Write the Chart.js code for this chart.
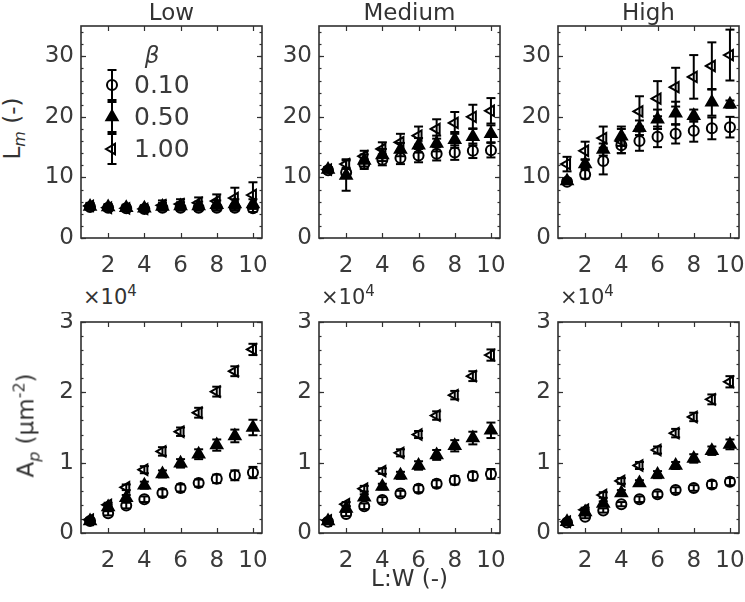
<!DOCTYPE html>
<html>
<head>
<meta charset="utf-8">
<script src="https://cdn.jsdelivr.net/npm/chart.js@4.4.1/dist/chart.umd.min.js"></script>
<style>
  body { margin: 0; background: #fff; }
  #fig { position: relative; width: 745px; height: 602px; font-family: "DejaVu Sans", sans-serif; color: #333; overflow: hidden; }
  canvas { position: absolute; }
  .lbl { position: absolute; font-size: 23px; line-height: 1; white-space: nowrap; }
  .title { width: 200px; text-align: center; }
  .ylab { width: 240px; text-align: center; transform: rotate(-90deg); transform-origin: center; }
  .exp { font-size: 21px; }
  .exp span { position: relative; top: -0.55em; font-size: 15px; }
  .ylab sub, .ylab sup { font-size: 16px; line-height: 0; }
</style>
</head>
<body>
<div id="fig"></div>
<script>
// L:W ratio on the x axis
const LW = [1, 2, 3, 4, 5, 6, 7, 8, 9, 10];
const X_TICKS = [2, 4, 6, 8, 10];
const LM_TICKS = [0, 10, 20, 30];
const AP_TICKS = [0, 1, 2, 3];
const COLUMNS = ["Low", "Medium", "High"];
const BETAS = ["0.10", "0.50", "1.00"];

// L_m (-) : mean and error half-length, one array per beta
const lowLm010 = [5.1, 5.0, 4.9, 4.8, 5.0, 5.0, 5.0, 5.0, 5.0, 4.9];
const lowLm010Err = [0.4, 0.4, 0.4, 0.4, 0.5, 0.5, 0.5, 0.5, 0.5, 0.6];
const lowLm050 = [5.2, 5.1, 5.0, 4.9, 5.2, 5.3, 5.3, 5.5, 5.6, 5.6];
const lowLm050Err = [0.5, 0.5, 0.5, 0.5, 0.6, 0.6, 0.7, 0.7, 0.8, 0.8];
const lowLm100 = [5.3, 5.0, 4.9, 4.8, 5.4, 5.6, 5.8, 6.1, 6.6, 7.1];
const lowLm100Err = [0.5, 0.5, 0.5, 0.5, 0.8, 0.8, 0.9, 1.1, 1.7, 2.1];

const medLm010 = [11.2, 10.8, 12.2, 12.9, 13.2, 13.6, 13.9, 14.1, 14.4, 14.5];
const medLm010Err = [0.4, 0.8, 0.8, 0.9, 1.0, 1.1, 1.1, 1.2, 1.2, 1.2];
const medLm050 = [11.3, 10.3, 12.8, 13.7, 14.6, 15.3, 15.6, 16.2, 16.7, 17.2];
const medLm050Err = [0.4, 2.5, 1.0, 1.0, 1.1, 1.2, 1.3, 1.3, 1.4, 1.4];
const medLm100 = [11.3, 12.2, 13.5, 14.7, 15.8, 16.9, 18.0, 19.0, 20.0, 21.0];
const medLm100Err = [0.4, 0.8, 0.9, 1.1, 1.4, 1.5, 1.6, 1.8, 2.0, 2.1];

const highLm010 = [9.3, 10.5, 12.7, 15.3, 16.0, 16.7, 17.2, 17.7, 18.1, 18.3];
const highLm010Err = [0.4, 0.7, 2.2, 1.3, 1.6, 1.7, 1.6, 1.8, 1.8, 1.7];
const highLm050 = [9.4, 12.2, 14.6, 16.8, 18.2, 19.6, 20.6, 20.2, 22.4, 22.1];
const highLm050Err = [0.4, 0.8, 1.0, 1.6, 1.2, 1.6, 1.9, 1.0, 2.2, 0.6];
const highLm100 = [12.2, 14.4, 16.5, 16.0, 20.9, 23.0, 24.9, 26.6, 28.4, 30.2];
const highLm100Err = [1.2, 1.5, 1.9, 2.0, 2.5, 2.9, 3.2, 3.6, 3.9, 4.2];

// A_p in units of 1e4 um^-2
const lowAp010 = [0.17, 0.28, 0.39, 0.48, 0.57, 0.64, 0.71, 0.77, 0.82, 0.86];
const lowAp010Err = [0.02, 0.03, 0.04, 0.04, 0.05, 0.05, 0.05, 0.06, 0.07, 0.08];
const lowAp050 = [0.17, 0.37, 0.50, 0.68, 0.84, 0.99, 1.12, 1.25, 1.38, 1.50];
const lowAp050Err = [0.02, 0.03, 0.04, 0.05, 0.05, 0.06, 0.07, 0.08, 0.09, 0.11];
const lowAp100 = [0.19, 0.40, 0.65, 0.90, 1.16, 1.44, 1.71, 2.01, 2.30, 2.61];
const lowAp100Err = [0.02, 0.03, 0.04, 0.05, 0.06, 0.06, 0.07, 0.07, 0.07, 0.08];

const medAp010 = [0.16, 0.27, 0.38, 0.47, 0.56, 0.63, 0.70, 0.75, 0.81, 0.84];
const medAp010Err = [0.02, 0.03, 0.04, 0.04, 0.04, 0.05, 0.05, 0.06, 0.06, 0.07];
const medAp050 = [0.17, 0.35, 0.51, 0.66, 0.82, 0.96, 1.11, 1.24, 1.35, 1.46];
const medAp050Err = [0.02, 0.03, 0.04, 0.04, 0.05, 0.06, 0.07, 0.08, 0.09, 0.11];
const medAp100 = [0.18, 0.41, 0.63, 0.88, 1.14, 1.40, 1.67, 1.96, 2.23, 2.53];
const medAp100Err = [0.02, 0.03, 0.04, 0.04, 0.05, 0.05, 0.06, 0.06, 0.07, 0.08];

const highAp010 = [0.15, 0.23, 0.32, 0.41, 0.48, 0.55, 0.61, 0.64, 0.69, 0.73];
const highAp010Err = [0.02, 0.02, 0.03, 0.03, 0.04, 0.04, 0.04, 0.04, 0.05, 0.05];
const highAp050 = [0.16, 0.30, 0.42, 0.57, 0.71, 0.83, 0.96, 1.06, 1.17, 1.26];
const highAp050Err = [0.02, 0.03, 0.03, 0.04, 0.04, 0.05, 0.05, 0.06, 0.06, 0.07];
const highAp100 = [0.16, 0.33, 0.54, 0.74, 0.96, 1.18, 1.42, 1.65, 1.90, 2.15];
const highAp100Err = [0.02, 0.03, 0.04, 0.04, 0.05, 0.05, 0.06, 0.06, 0.07, 0.08];

const AXIS_COLOR = "#303030";
const TEXT_COLOR = "#3a3a3a";
const FONT = "DejaVu Sans";

const COL_LEFT = [81, 319, 558];
const ROW_TOP = [26, 322];
const PLOT_W = 181;
const PLOT_H = [212, 211];
const PAD_L = 50, PAD_T = 10, PAD_R = 12, PAD_B = 44;

const MARKERS = [
  { pointStyle: "circle", radius: 5, rotation: 0, filled: false, order: 3 },
  { pointStyle: "triangle", radius: 6.5, rotation: 0, filled: true, order: 2 },
  { pointStyle: "triangle", radius: 6, rotation: -90, filled: false, order: 1 },
];

const panels = [
  { row: 0, col: 0, series: [[lowLm010, lowLm010Err], [lowLm050, lowLm050Err], [lowLm100, lowLm100Err]] },
  { row: 0, col: 1, series: [[medLm010, medLm010Err], [medLm050, medLm050Err], [medLm100, medLm100Err]] },
  { row: 0, col: 2, series: [[highLm010, highLm010Err], [highLm050, highLm050Err], [highLm100, highLm100Err]] },
  { row: 1, col: 0, series: [[lowAp010, lowAp010Err], [lowAp050, lowAp050Err], [lowAp100, lowAp100Err]] },
  { row: 1, col: 1, series: [[medAp010, medAp010Err], [medAp050, medAp050Err], [medAp100, medAp100Err]] },
  { row: 1, col: 2, series: [[highAp010, highAp010Err], [highAp050, highAp050Err], [highAp100, highAp100Err]] },
];

function line(ctx, x1, y1, x2, y2) {
  ctx.beginPath();
  ctx.moveTo(x1, y1);
  ctx.lineTo(x2, y2);
  ctx.stroke();
}

function errorBar(ctx, x, top, bot) {
  line(ctx, x, top, x, bot);
  line(ctx, x - 4.5, top, x + 4.5, top);
  line(ctx, x - 4.5, bot, x + 4.5, bot);
}

// box, inward ticks and error bars, like a matlab axes
const matlabAxes = {
  id: "matlabAxes",
  beforeDatasetsDraw(chart, args, opts) {
    const { ctx, chartArea: a, scales: { x, y } } = chart;
    ctx.save();
    ctx.strokeStyle = AXIS_COLOR;
    ctx.lineWidth = 1.6;
    ctx.strokeRect(a.left, a.top, a.right - a.left, a.bottom - a.top);
    ctx.lineWidth = 1.2;
    for (const t of x.ticks) {
      const px = Math.round(x.getPixelForValue(t.value)) + 0.5;
      line(ctx, px, a.bottom, px, a.bottom - 5);
      line(ctx, px, a.top, px, a.top + 5);
    }
    for (let v = y.min; v <= y.max + 1e-9; v += opts.minorStep) {
      const py = Math.round(y.getPixelForValue(v)) + 0.5;
      line(ctx, a.left, py, a.left + 2.5, py);
      line(ctx, a.right, py, a.right - 2.5, py);
    }
    for (const t of y.ticks) {
      const py = Math.round(y.getPixelForValue(t.value)) + 0.5;
      line(ctx, a.left, py, a.left + 5, py);
      line(ctx, a.right, py, a.right - 5, py);
    }
    ctx.restore();
  },
  beforeDatasetDraw(chart, args) {
    const { ctx, scales: { y } } = chart;
    const ds = chart.data.datasets[args.index];
    ctx.save();
    ctx.strokeStyle = "#000";
    ctx.lineWidth = 2;
    args.meta.data.forEach((pt, i) => {
      const v = ds.data[i].y, e = ds.errors[i];
      errorBar(ctx, pt.x, y.getPixelForValue(v + e), y.getPixelForValue(v - e));
    });
    ctx.restore();
  },
  afterDatasetsDraw(chart, args, opts) {
    if (!opts.legend) return;
    const { ctx, chartArea: a } = chart;
    ctx.save();
    const mx = a.left + 31;
    const rows = [a.top + 59, a.top + 91, a.top + 123];
    ctx.fillStyle = TEXT_COLOR;
    ctx.font = `italic 23px "${FONT}"`;
    ctx.textAlign = "center";
    ctx.textBaseline = "middle";
    ctx.fillText("β", a.left + 71, a.top + 31);
    ctx.font = `25px "${FONT}"`;
    ctx.textAlign = "left";
    BETAS.forEach((b, i) => {
      const yy = rows[i];
      ctx.fillStyle = TEXT_COLOR;
      ctx.fillText(b, a.left + 53, yy + 1);
      ctx.strokeStyle = "#000";
      ctx.lineWidth = 2;
      errorBar(ctx, mx, yy - 15, yy + 15);
      const m = MARKERS[i];
      ctx.fillStyle = m.filled ? "#000" : "rgba(0,0,0,0)";
      Chart.helpers.drawPoint(ctx, { pointStyle: m.pointStyle, radius: m.radius, rotation: m.rotation, borderWidth: 2 }, mx, yy);
    });
    ctx.restore();
  },
};

function makePanel(p, idx) {
  const fig = document.getElementById("fig");
  const canvas = document.createElement("canvas");
  const w = PAD_L + PLOT_W + PAD_R;
  const h = PAD_T + PLOT_H[p.row] + PAD_B;
  canvas.width = w;
  canvas.height = h;
  canvas.style.left = COL_LEFT[p.col] - PAD_L + "px";
  canvas.style.top = ROW_TOP[p.row] - PAD_T + "px";
  canvas.style.width = w + "px";
  canvas.style.height = h + "px";
  fig.appendChild(canvas);

  const isLm = p.row === 0;
  const yTicks = isLm ? LM_TICKS : AP_TICKS;
  const tickFont = { family: FONT, size: 23 };

  const datasets = p.series.map(([vals, errs], i) => {
    const m = MARKERS[i];
    return {
      label: "β = " + BETAS[i],
      data: LW.map((x, j) => ({ x, y: vals[j] })),
      errors: errs,
      showLine: false,
      pointStyle: m.pointStyle,
      pointRadius: m.radius,
      pointRotation: m.rotation,
      pointBorderWidth: 2,
      pointBorderColor: "#000",
      pointBackgroundColor: m.filled ? "#000" : "rgba(0,0,0,0)",
      order: m.order,
      clip: false,
    };
  });

  new Chart(canvas, {
    type: "scatter",
    data: { datasets },
    plugins: [matlabAxes],
    options: {
      responsive: false,
      animation: false,
      devicePixelRatio: 1,
      layout: { autoPadding: false, padding: { left: 0, top: PAD_T, right: PAD_R, bottom: 0 } },
      plugins: {
        legend: { display: false },
        tooltip: { enabled: false },
        matlabAxes: { minorStep: isLm ? 2 : 0.2, legend: idx === 0 },
      },
      scales: {
        x: {
          type: "linear",
          min: 0.5,
          max: 10.5,
          afterBuildTicks: (s) => { s.ticks = X_TICKS.map((v) => ({ value: v })); },
          afterFit: (s) => { s.height = PAD_B; s.paddingLeft = 0; s.paddingRight = 0; },
          grid: { display: false, drawTicks: false },
          border: { display: false },
          ticks: { font: tickFont, color: TEXT_COLOR, padding: 14, maxRotation: 0, minRotation: 0 },
        },
        y: {
          type: "linear",
          min: 0,
          max: isLm ? 35 : 3,
          afterBuildTicks: (s) => { s.ticks = yTicks.map((v) => ({ value: v })); },
          afterFit: (s) => { s.width = PAD_L; s.paddingTop = 0; s.paddingBottom = 0; },
          grid: { display: false, drawTicks: false },
          border: { display: false },
          ticks: { font: tickFont, color: TEXT_COLOR, padding: 7 },
        },
      },
    },
  });
}

function addLabel(html, cls, left, top) {
  const d = document.createElement("div");
  d.className = "lbl " + cls;
  d.innerHTML = html;
  d.style.left = left + "px";
  d.style.top = top + "px";
  document.getElementById("fig").appendChild(d);
}

panels.forEach(makePanel);

COLUMNS.forEach((name, c) => {
  addLabel(name, "title", COL_LEFT[c] + PLOT_W / 2 - 100, 1);
  addLabel("×10<span>4</span>", "exp", COL_LEFT[c] + 2, 287);
});
addLabel("L<sub><i>m</i></sub> (-)", "ylab", 12 - 120, 128 - 11);
addLabel("A<sub><i>p</i></sub> (µm<sup>-2</sup>)", "ylab", 26 - 120, 425 - 11);
addLabel("L:W (-)", "title", COL_LEFT[1] + PLOT_W / 2 - 100, 567);
</script>
</body>
</html>
